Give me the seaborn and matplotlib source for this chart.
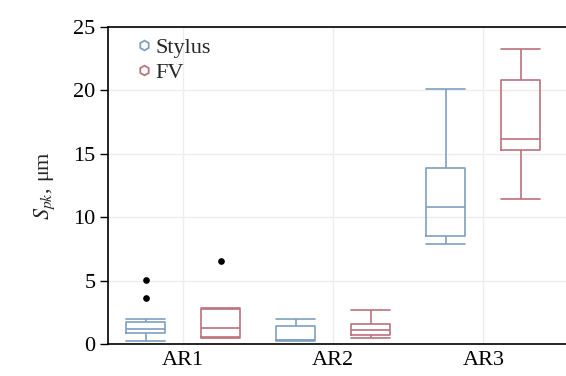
import numpy as np
import pandas as pd
import seaborn as sns
import matplotlib.pyplot as plt
from matplotlib.lines import Line2D

# Measured S_pk values per area and instrument
regions = ["AR1", "AR2", "AR3"]
methods = ["Stylus", "FV"]

ar1_stylus = [0.25, 0.55, 0.75, 0.85, 1.0, 1.1, 1.2, 1.35, 1.6, 1.75, 2.0, 3.65, 5.05]
ar1_fv = [0.5, 0.55, 0.58, 0.9, 1.29, 2.2, 2.78, 2.82, 6.55]
ar2_stylus = [0.25, 0.28, 0.3, 0.32, 0.35, 0.9, 1.4, 1.7, 1.95]
ar2_fv = [0.5, 0.6, 0.71, 0.9, 1.1, 1.3, 1.6, 2.2, 2.7]
ar3_stylus = [7.86, 8.2, 8.54, 9.5, 10.83, 12.5, 13.9, 17.0, 20.1]
ar3_fv = [11.4, 13.5, 15.3, 15.7, 16.14, 18.5, 20.8, 22.0, 23.25]

palette = {"Stylus": "#7f9fc2", "FV": "#bb727c"}

groups = {
    ("AR1", "Stylus"): ar1_stylus,
    ("AR1", "FV"): ar1_fv,
    ("AR2", "Stylus"): ar2_stylus,
    ("AR2", "FV"): ar2_fv,
    ("AR3", "Stylus"): ar3_stylus,
    ("AR3", "FV"): ar3_fv,
}
rows = [(r, m, v) for (r, m), vals in groups.items() for v in vals]
df = pd.DataFrame(rows, columns=["region", "method", "spk"])

sns.set_style("white")
plt.rcParams["font.family"] = ["Liberation Serif", "DejaVu Serif"]
plt.rcParams["mathtext.fontset"] = "stix"

fig = plt.figure(figsize=(5.66, 3.76), dpi=100)
ax = fig.add_axes([108 / 566, 1 - 344 / 376, 1 - 108 / 566, (344 - 27) / 376])

sns.boxplot(
    data=df, x="region", y="spk", hue="method", order=regions,
    hue_order=methods, palette=palette, fill=False, width=1.0, gap=0.48,
    linewidth=1.2, whis=1.5, legend=False, ax=ax, capwidths=0.26,
    flierprops=dict(marker="o", markerfacecolor="black",
                    markeredgecolor="black", markersize=3.8),
)

ax.set_ylim(0, 25)
ax.set_xlim(-0.5, 2.55)
ax.set_yticks([0, 5, 10, 15, 20, 25])
ax.grid(True, color="#ededed", linewidth=1.0)
ax.set_axisbelow(True)

for side in ["left", "bottom", "top"]:
    ax.spines[side].set_visible(True)
    ax.spines[side].set_color("black")
    ax.spines[side].set_linewidth(1.2)
ax.spines["right"].set_visible(False)

ax.tick_params(axis="y", direction="out", length=6, width=1.0,
               labelsize=16, left=True, colors="black", pad=3)
ax.tick_params(axis="x", length=0, labelsize=16, pad=5, colors="black")
ax.set_xlabel("")
ax.set_ylabel(r"$S_{pk}$, μm", fontsize=16, labelpad=12)

handles = [
    Line2D([], [], marker="h", linestyle="none", markersize=7,
           markerfacecolor="white", markeredgecolor=palette[m],
           markeredgewidth=1.3, label=m)
    for m in methods
]
ax.legend(handles=handles, loc="upper left", bbox_to_anchor=(0.035, 1.0),
          frameon=False, fontsize=16, handletextpad=0.05,
          handlelength=0.9, labelspacing=0.2, borderaxespad=0.05)

fig.savefig("out.png", dpi=100)
